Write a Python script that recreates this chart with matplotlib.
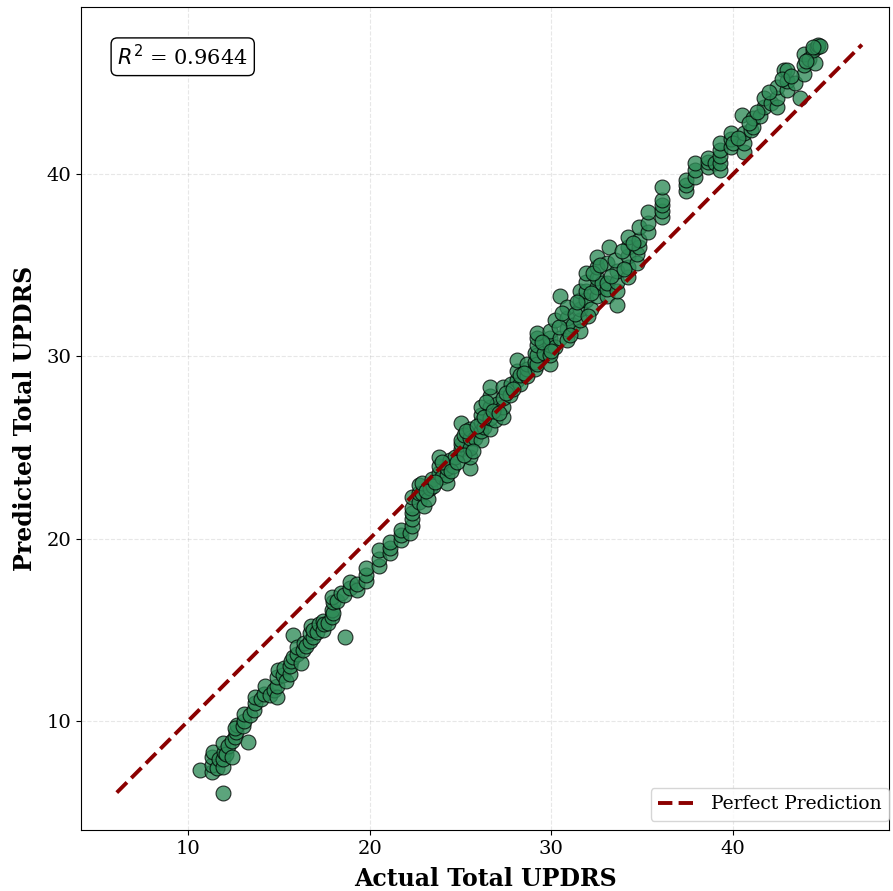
import matplotlib

matplotlib.use("Agg")
import matplotlib.pyplot as plt
import numpy as np

plt.rcParams["font.family"] = "DejaVu Serif"

# (actual, predicted), grouped along the diagonal
low_pts = [
    (10.66, 7.33), (11.9, 6.07),
    (11.3, 7.2), (11.3, 7.6), (11.3, 8.0), (11.35, 8.3),
    (11.6, 7.4), (11.7, 7.9),
    (11.9, 7.5), (11.9, 7.9), (11.95, 8.3), (11.9, 8.8),
    (12.1, 8.2), (12.2, 8.6), (12.4, 8.0), (12.4, 8.9),
    (12.6, 9.1), (12.65, 9.4), (12.7, 9.8), (12.6, 9.6),
    (13.0, 9.7), (13.1, 10.0), (13.1, 10.4), (13.3, 8.85),
    (13.4, 10.3), (13.6, 10.6), (13.7, 11.0), (13.7, 11.3),
    (14.0, 11.2), (14.2, 11.5), (14.25, 11.9), (14.5, 11.4),
    (14.7, 11.7), (14.9, 11.3), (14.9, 11.9), (14.9, 12.4), (14.95, 12.8),
    (15.2, 12.5), (15.3, 12.9), (15.4, 12.2),
    (15.6, 12.6), (15.6, 13.0), (15.65, 13.3), (15.8, 13.5),
    (15.8, 14.7), (16.0, 13.7), (16.0, 14.05),
]

mid_low_pts = [
    (16.2, 13.2), (16.3, 13.9), (16.4, 14.3), (16.5, 14.1),
    (16.7, 14.4), (16.7, 14.8), (16.75, 15.2), (16.9, 14.6), (16.9, 15.0),
    (17.1, 14.9), (17.2, 15.3), (17.4, 15.0), (17.4, 15.5), (17.5, 15.3),
    (17.7, 15.4), (17.9, 15.7), (17.9, 16.1), (18.0, 15.9), (17.95, 16.5),
    (17.9, 16.8), (18.2, 16.6), (18.4, 17.0), (18.65, 14.62), (18.6, 16.9),
    (18.9, 17.3), (18.9, 17.6), (19.3, 17.2), (19.3, 17.5),
    (19.8, 17.7), (19.8, 18.0), (19.8, 18.4),
    (20.5, 18.5), (20.5, 18.9), (20.5, 19.4),
    (21.1, 19.2), (21.1, 19.5), (21.1, 19.8),
    (21.7, 19.9), (21.7, 20.2), (21.7, 20.5),
    (22.2, 20.3), (22.3, 20.7), (22.3, 21.1), (22.3, 21.4), (22.3, 21.7),
    (22.3, 22.3), (22.7, 22.0), (22.7, 22.5), (22.7, 22.95),
]

mid_pts = [
    (22.9, 22.5), (22.9, 23.05), (23.0, 21.8), (23.2, 22.2), (23.3, 22.8),
    (23.4, 23.3), (23.5, 22.9), (23.8, 23.6), (23.8, 24.0), (23.8, 24.5),
    (24.0, 23.4), (24.25, 23.05), (24.25, 23.5), (24.25, 23.9), (24.4, 24.3),
    (24.6, 24.0), (24.7, 24.5), (25.0, 24.9), (25.0, 25.2), (25.0, 25.4),
    (25.0, 26.35), (25.2, 25.7), (25.5, 23.9), (25.5, 24.5), (25.5, 25.0),
    (25.5, 25.5), (25.5, 26.0), (25.8, 25.5), (26.1, 25.4), (26.1, 25.9),
    (26.1, 26.4), (26.1, 26.8), (26.1, 27.2), (26.3, 26.1), (26.6, 26.0),
    (26.6, 26.6), (26.6, 27.2), (26.6, 27.8), (26.6, 28.3), (26.9, 26.5),
    (27.0, 27.4), (27.35, 26.7), (27.35, 27.2), (27.35, 27.7), (27.35, 28.3),
    (27.7, 27.9), (27.8, 28.5), (28.1, 28.7), (28.1, 29.2), (28.1, 29.8),
    (28.3, 28.5), (28.3, 29.0), (28.65, 28.9), (28.65, 29.3), (28.65, 29.6),
    (29.1, 29.3), (29.1, 29.7), (29.1, 30.2),
    (23.1, 22.6), (23.6, 23.1), (24.0, 24.2), (24.5, 23.7), (24.8, 24.2),
    (25.2, 24.6), (25.3, 25.9), (25.7, 24.8), (25.9, 26.2), (26.3, 26.7),
    (26.4, 27.5), (26.8, 27.0), (27.1, 26.9), (27.5, 28.0), (27.9, 28.2),
    (28.5, 29.1),
]

upper_pts = [
    (29.2, 29.6), (29.2, 30.1), (29.2, 30.6), (29.2, 31.0), (29.2, 31.3),
    (29.6, 30.2), (29.9, 29.6), (29.9, 30.1), (29.9, 30.6), (29.9, 31.0),
    (29.9, 31.4), (30.2, 30.5), (30.2, 32.0), (30.5, 31.0), (30.5, 33.3),
    (30.85, 30.9), (30.85, 31.5), (30.85, 32.1), (30.85, 32.7), (31.2, 31.7),
    (31.6, 31.4), (31.6, 32.0), (31.6, 32.6), (31.6, 33.1), (31.6, 33.6),
    (31.9, 33.1), (31.9, 33.6), (31.9, 34.1), (31.9, 34.6), (32.2, 32.6),
    (32.5, 33.3), (32.5, 33.8), (32.5, 34.3), (32.5, 34.9), (32.5, 35.45),
    (32.8, 34.0), (33.05, 33.3), (33.05, 33.7), (33.05, 34.0), (33.05, 35.1),
    (33.2, 36.0), (33.6, 32.8), (33.6, 33.6), (33.6, 34.1), (33.6, 34.7),
    (33.5, 35.3), (34.2, 34.35), (34.2, 34.9), (34.2, 35.5), (34.2, 36.0),
    (34.2, 36.55), (34.7, 35.1), (34.7, 35.6), (34.8, 36.0), (34.8, 36.4),
    (34.8, 37.1), (35.3, 36.8), (35.3, 37.3), (35.3, 37.9),
    (36.1, 37.65), (36.1, 38.0), (36.1, 38.3), (36.1, 38.6), (36.1, 39.3),
    (29.5, 30.8), (30.0, 30.3), (30.4, 31.6), (30.6, 32.4), (31.0, 31.2),
    (31.3, 32.3), (31.4, 33.0), (32.0, 32.2), (32.2, 33.5), (32.3, 34.6),
    (32.7, 35.0), (33.3, 34.4), (33.9, 35.8), (34.0, 34.8), (34.5, 36.2),
]

top_pts = [
    (37.4, 39.1), (37.4, 39.4), (37.4, 39.7),
    (37.9, 39.85), (37.9, 40.2), (37.9, 40.6),
    (38.6, 40.4), (38.6, 40.65), (38.6, 40.9),
    (39.0, 40.6), (39.3, 40.2), (39.3, 40.6), (39.3, 41.0), (39.3, 41.3),
    (39.3, 41.7), (39.9, 41.5), (39.9, 41.9), (39.9, 42.25), (40.0, 41.7),
    (40.5, 43.24), (40.6, 41.2), (40.6, 41.7), (40.6, 42.25),
    (41.0, 42.4), (41.1, 42.6), (41.1, 43.1),
    (41.5, 43.2), (41.7, 43.7), (41.7, 44.2), (42.1, 43.9),
    (42.4, 43.7), (42.4, 44.2), (42.4, 44.8),
    (42.8, 45.7), (43.0, 44.6), (43.0, 45.1), (43.0, 45.7),
    (43.4, 45.0), (43.7, 44.2), (43.9, 45.5), (43.9, 46.0), (43.9, 46.6),
    (44.2, 46.3), (44.5, 46.1), (44.4, 46.8), (44.6, 47.0), (44.7, 47.1),
    (44.8, 47.05),
    (40.3, 42.0), (40.9, 42.8), (41.3, 43.4), (42.0, 44.5), (42.7, 45.2),
    (43.2, 45.4), (44.0, 46.2), (44.4, 47.0),
]

r2_value = 0.9644

pts = np.array(low_pts + mid_low_pts + mid_pts + upper_pts + top_pts)
actual, predicted = pts[:, 0], pts[:, 1]

fig = plt.figure(figsize=(8.93, 8.91), dpi=100)
ax = fig.add_axes([0.0907, 0.0685, 0.905, 0.9235])

ax.scatter(actual, predicted, s=115, color="#2E8B57", alpha=0.78,
           edgecolors="black", linewidths=0.8, zorder=2)

lo = min(actual.min(), predicted.min())
hi = max(actual.max(), predicted.max())
ax.plot([lo, hi], [lo, hi], color="#8B0000", linestyle="--", linewidth=2.8,
        label="Perfect Prediction", zorder=3)

ax.set_xlim(4.1, 48.6)
ax.set_ylim(4.02, 49.16)
ax.set_xticks([10, 20, 30, 40])
ax.set_yticks([10, 20, 30, 40])
ax.tick_params(labelsize=14)
ax.grid(True, linestyle="--", alpha=0.3)
ax.set_axisbelow(True)

ax.set_xlabel("Actual Total UPDRS", fontsize=17, fontweight="bold", labelpad=7)
ax.set_ylabel("Predicted Total UPDRS", fontsize=17, fontweight="bold", labelpad=7)

ax.text(0.045, 0.955, f"$R^2$ = {r2_value:.4f}", transform=ax.transAxes,
        fontsize=15, va="top",
        bbox=dict(boxstyle="round", facecolor="white", edgecolor="black"))
ax.legend(loc="lower right", fontsize=13.5, borderaxespad=0,
          bbox_to_anchor=(0.9995, 0.011))

fig.savefig("out.png", dpi=100)
